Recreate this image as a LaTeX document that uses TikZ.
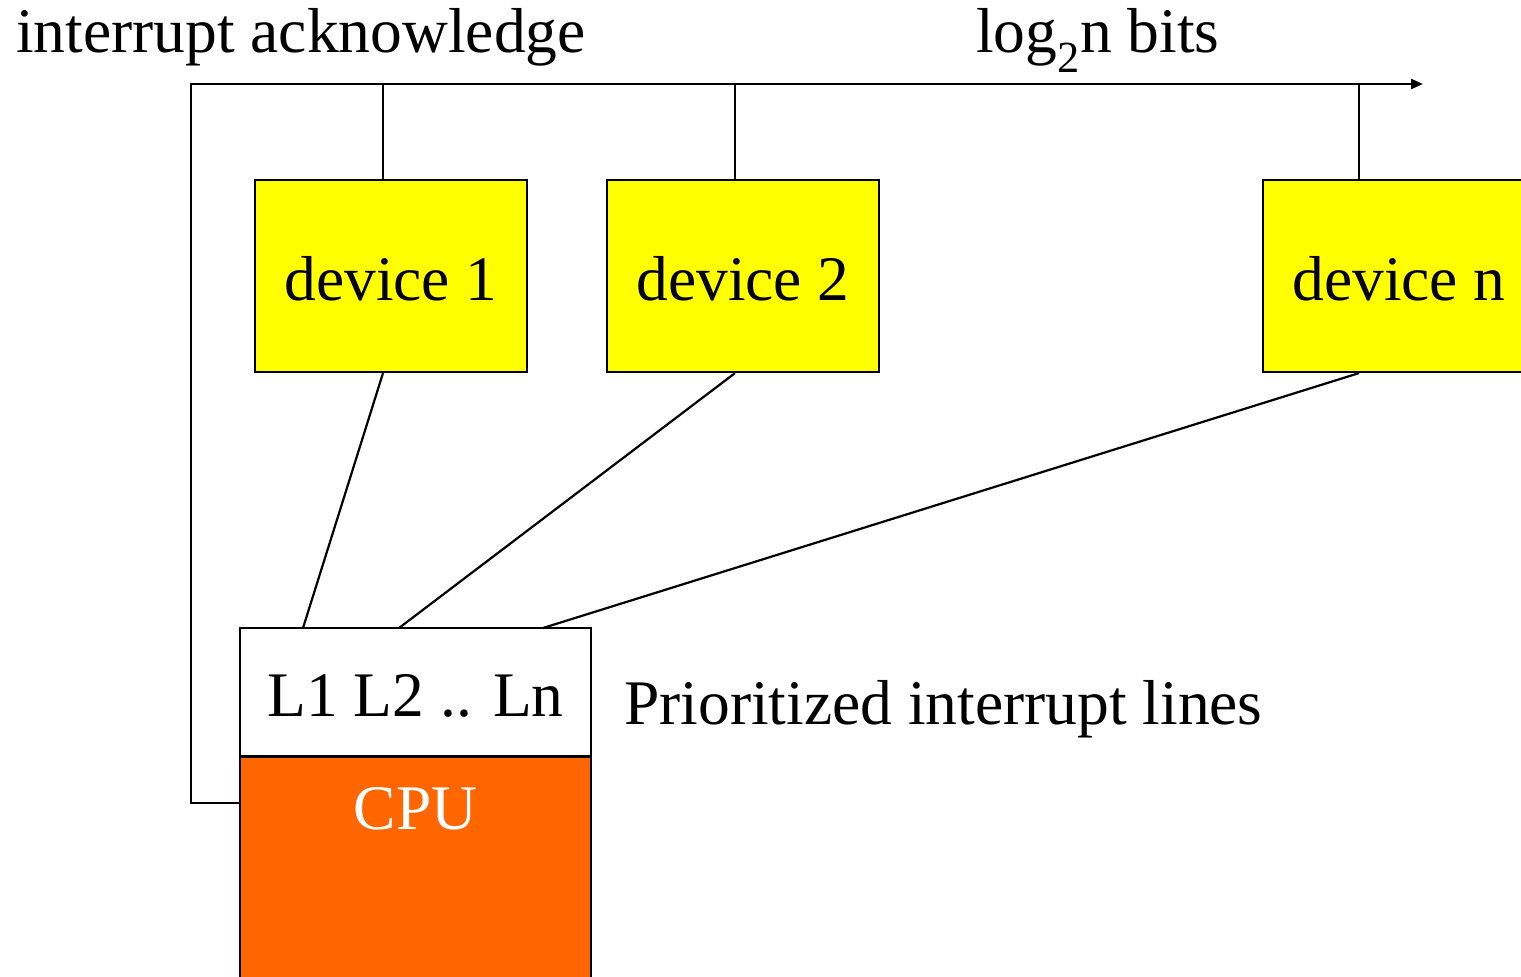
\documentclass[tikz,border=0pt]{standalone}
\usepackage{fontspec}
\setmainfont{Liberation Serif}
\usetikzlibrary{arrows.meta}
\definecolor{devyellow}{RGB}{255,255,0}
\definecolor{cpuorange}{RGB}{255,102,0}
\begin{document}
\begin{tikzpicture}[x=1pt,y=-1pt,
  wire/.style={line width=2.2pt},
  big/.style={font=\fontsize{63.5}{70}\selectfont},
  devbox/.style={draw,line width=2.2pt,fill=devyellow,minimum width=272pt,minimum height=192pt,inner sep=0pt,text height=49pt,text depth=0pt,big},
  linebox/.style={draw,line width=2.2pt,fill=white,minimum width=351pt,minimum height=128pt,inner sep=0pt,text height=48pt,text depth=0pt,big},
  cpubox/.style={draw,line width=2.2pt,fill=cpuorange,minimum width=351pt,minimum height=260pt,inner sep=0pt,anchor=north},
  lbl/.style={big,inner sep=0pt,anchor=base west}]
\useasboundingbox (0,0) rectangle (1521,977);
\clip (0,0) rectangle (1521,977);

% devices
\node[devbox] (d1) at (391,276) {device 1};
\node[devbox] (d2) at (743,276) {device 2};
\node[devbox] (dn) at (1399,276) {device n};

% CPU with its prioritized interrupt lines
\node[cpubox] (cpu) at (415.5,756) {};
\node[linebox] (lines) at (415.5,692) {L1 L2 .. Ln};
\node[big,text=white,inner sep=0pt,anchor=base] (cputxt) at (415.5,829) {CPU};

% labels
\node[lbl] (ack) at (16,52) {interrupt acknowledge};
\node[lbl] (bits) at (976,52) {log\textsubscript{2}n bits};
\node[lbl] (prio) at (624,724) {Prioritized interrupt lines};

% acknowledge bus
\coordinate (busL) at (191,84);
\coordinate (busR) at (1423,84);
\coordinate (t1) at (383,84);
\coordinate (t2) at (735,84);
\coordinate (tn) at (1359,84);
\coordinate (ackin) at (cpu.west |- 0,803);
\draw[wire,-{Triangle[length=12pt,width=10pt]}] (ackin) -| (busL) -- (busR);
\draw[wire] (t1) -- (t1 |- d1.north);
\draw[wire] (t2) -- (t2 |- d2.north);
\draw[wire] (tn) -- (tn |- dn.north);

% interrupt lines into the CPU
\coordinate (l1) at (303,628);
\coordinate (l2) at (399,628);
\coordinate (ln) at (543,628);
\draw[wire] (t1 |- d1.south) -- (l1);
\draw[wire] (t2 |- d2.south) -- (l2);
\draw[wire] (tn |- dn.south) -- (ln);
\end{tikzpicture}
\end{document}
